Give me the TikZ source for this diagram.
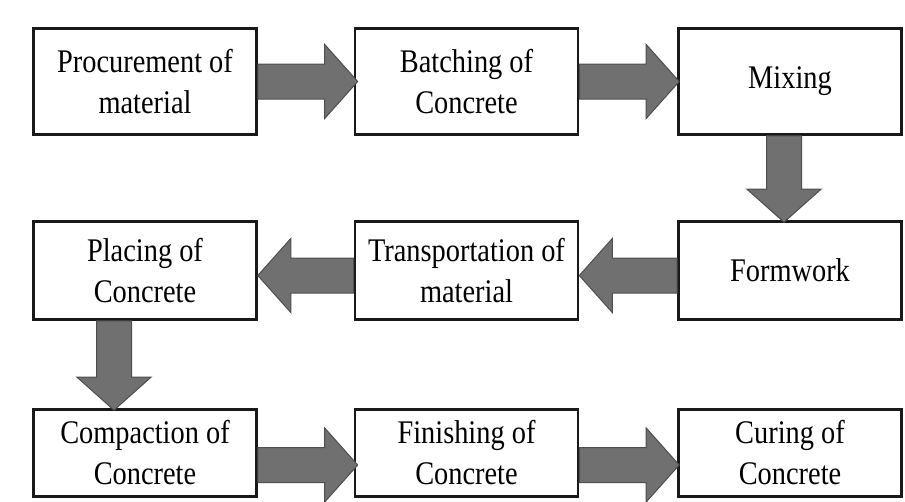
\documentclass[tikz,border=0pt]{standalone}
\usepackage{fontspec}
\setmainfont{Liberation Serif}[FakeStretch=0.86]
\usetikzlibrary{calc}
\definecolor{arrowgray}{RGB}{112,112,112}
\definecolor{arrowedge}{RGB}{78,78,78}
\tikzset{
  stage/.style={draw=black!90, line width=2.6pt, minimum width=223pt, inner sep=0pt,
    align=center, font=\fontsize{33}{41}\selectfont},
  flow/.style={fill=arrowgray, draw=arrowedge, line width=1pt, line join=miter,
    to path={($(\tikztostart)!17.5pt!90:(\tikztotarget)$)
      -- ($(\tikztotarget)!33pt!(\tikztostart)!17.5pt!-90:(\tikztostart)$)
      -- ($(\tikztotarget)!33pt!(\tikztostart)!37pt!-90:(\tikztostart)$)
      -- (\tikztotarget)
      -- ($(\tikztotarget)!33pt!(\tikztostart)!37pt!90:(\tikztostart)$)
      -- ($(\tikztotarget)!33pt!(\tikztostart)!17.5pt!90:(\tikztostart)$)
      -- ($(\tikztostart)!17.5pt!-90:(\tikztotarget)$) -- cycle}}
}
\begin{document}
\begin{tikzpicture}[x=1pt,y=-1pt]
\useasboundingbox (0,0) rectangle (905,501);
\node[stage, minimum height=106pt] (procure) at (145,81.5) {Procurement of\\material};
\node[stage, minimum height=106pt] (batch) at (466.5,81.5) {Batching of\\Concrete};
\node[stage, minimum height=106pt] (mix) at (790,81.5) {Mixing};
\node[stage, minimum height=98pt] (placing) at (145,270.5) {Placing of\\Concrete};
\node[stage, minimum height=98pt] (transport) at (466.5,270.5) {Transportation of\\material};
\node[stage, minimum height=98pt] (formwork) at (790,270.5) {Formwork};
\node[stage, minimum height=87pt] (compact) at (145,453) {Compaction of\\Concrete};
\node[stage, minimum height=87pt] (finish) at (466.5,453) {Finishing of\\Concrete};
\node[stage, minimum height=87pt] (curing) at (790,453) {Curing of\\Concrete};
\draw[flow] (procure.east) to ([xshift=4pt]batch.west);
\draw[flow] (batch.east) to ([xshift=2pt]mix.west);
\draw[flow] ([xshift=-6pt]mix.south) to ([xshift=-6pt,yshift=-2pt]formwork.north);
\draw[flow] ([yshift=-5pt]formwork.west) to ([yshift=-5pt]transport.east);
\draw[flow] ([yshift=-5pt]transport.west) to ([yshift=-5pt]placing.east);
\draw[flow] ([xshift=-31pt]placing.south) to ([xshift=-31pt,yshift=-2pt]compact.north);
\draw[flow] ([yshift=-12pt]compact.east) to ([xshift=4pt,yshift=-12pt]finish.west);
\draw[flow] ([yshift=-12pt]finish.east) to ([xshift=2pt,yshift=-12pt]curing.west);
\end{tikzpicture}
\end{document}
